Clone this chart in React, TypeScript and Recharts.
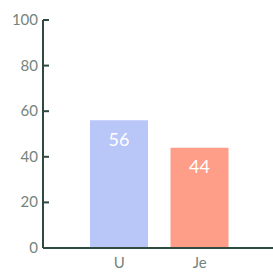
import React from "react";
import { BarChart, Bar, XAxis, YAxis, Cell, LabelList } from "recharts";

const categories = ["U", "Je"];
const values = [56, 44];
const colors = ["#b9c6f8", "#ff9e88"];
const yTicks = [0, 20, 40, 60, 80, 100];

const data = categories.map((c, i) => ({ name: c, value: values[i] }));

const AXIS = "#2f4a3f";
const TEXT = "#74847c";
const FONT = "Lato, 'Open Sans', sans-serif";

const YTick = (props: any) => {
  const { x, y, payload } = props;
  return (
    <g>
      <line x1={x + 5} x2={x + 11} y1={y} y2={y} stroke={AXIS} strokeWidth={2} />
      <text x={x} y={y} dy={5} textAnchor="end" fill={TEXT} fontSize={15} fontFamily={FONT}>
        {payload.value}
      </text>
    </g>
  );
};

export default function App() {
  return (
    <div style={{ position: "absolute", left: 0, top: 0 }}>
      <BarChart
        width={273}
        height={272}
        data={data}
        margin={{ top: 20, right: 0, bottom: 0, left: 0 }}
      >
        <YAxis
          width={43}
          domain={[0, 100]}
          ticks={yTicks}
          tickLine={false}
          tickSize={0}
          tickMargin={5}
          axisLine={{ stroke: AXIS, strokeWidth: 2 }}
          tick={<YTick />}
          interval={0}
        />
        <XAxis
          dataKey="name"
          height={24}
          padding={{ left: 36, right: 33 }}
          tickLine={false}
          axisLine={{ stroke: AXIS, strokeWidth: 2 }}
          tick={{ fill: TEXT, fontSize: 15, fontFamily: FONT }}
          tickMargin={3}
        />
        <Bar dataKey="value" barSize={58} isAnimationActive={false}>
          {data.map((d, i) => (
            <Cell key={d.name} fill={colors[i]} />
          ))}
          <LabelList
            dataKey="value"
            position="insideTop"
            offset={13}
            fill="#ffffff"
            fontSize={18}
            fontFamily={FONT}
          />
        </Bar>
      </BarChart>
    </div>
  );
}
